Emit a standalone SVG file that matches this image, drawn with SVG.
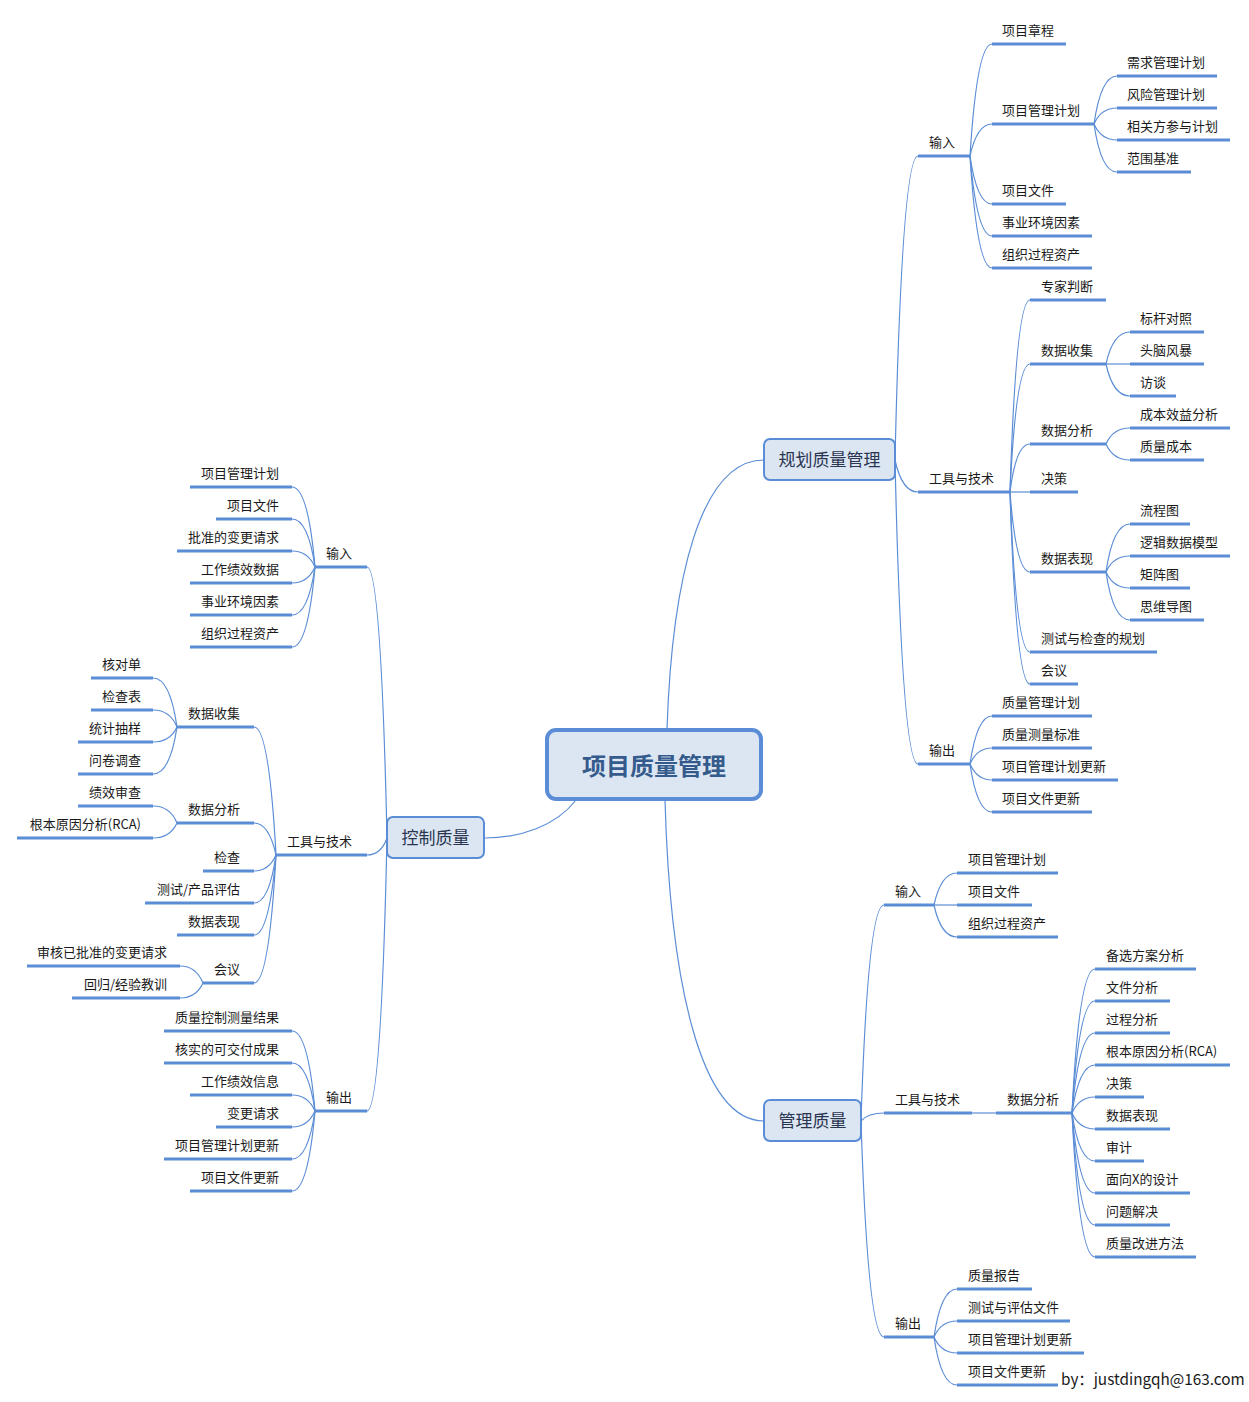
<svg xmlns="http://www.w3.org/2000/svg" width="1249" height="1402" viewBox="0 0 1249 1402">
<style>
.ul{stroke:#5b8dd6;stroke-width:3;fill:none}
.c{fill:none;stroke:#5b8dd6;stroke-width:1.2}
.t{font-family:"Noto Sans CJK SC","Microsoft YaHei","DejaVu Sans",sans-serif;font-size:13px;fill:#1a1a1a;transform:translateY(-1px)}
.te{text-anchor:end}
.box{fill:#dce6f3;stroke:#5b8dd6;stroke-width:2}
.bt{font-family:"Noto Sans CJK SC","Microsoft YaHei",sans-serif;font-size:17px;fill:#2a3550;text-anchor:middle}
.ct{font-family:"Noto Sans CJK SC","Microsoft YaHei",sans-serif;font-size:24px;font-weight:bold;fill:#355b8c;text-anchor:middle}
</style>
<rect width="1249" height="1402" fill="#ffffff"/>
<g id="connectors">
<path class="c" d="M 667 729 C 672 580, 700 460, 764 460"/>
<path class="c" d="M 665 800 C 670 980, 700 1121, 764 1121"/>
<path class="c" d="M 576 800 C 556 826, 520 838, 485 838"/>
<path class="c" d="M 895 460 Q 902 156 918 156"/>
<path class="c" d="M 895 460 Q 902 492 918 492"/>
<path class="c" d="M 895 460 Q 902 764 918 764"/>
<path class="c" d="M 970 156 Q 977 44 992 44"/>
<path class="c" d="M 970 156 Q 977 124 992 124"/>
<path class="c" d="M 970 156 Q 977 204 992 204"/>
<path class="c" d="M 970 156 Q 977 236 992 236"/>
<path class="c" d="M 970 156 Q 977 268 992 268"/>
<path class="c" d="M 1094 124 Q 1101 76 1117 76"/>
<path class="c" d="M 1094 124 Q 1101 108 1117 108"/>
<path class="c" d="M 1094 124 Q 1101 140 1117 140"/>
<path class="c" d="M 1094 124 Q 1101 172 1117 172"/>
<path class="c" d="M 1010 492 Q 1016 300 1030 300"/>
<path class="c" d="M 1010 492 Q 1016 364 1030 364"/>
<path class="c" d="M 1010 492 Q 1016 444 1030 444"/>
<path class="c" d="M 1010 492 L 1030 492"/>
<path class="c" d="M 1010 492 Q 1016 572 1030 572"/>
<path class="c" d="M 1010 492 Q 1016 652 1030 652"/>
<path class="c" d="M 1010 492 Q 1016 684 1030 684"/>
<path class="c" d="M 1106 364 Q 1113 332 1130 332"/>
<path class="c" d="M 1106 364 L 1130 364"/>
<path class="c" d="M 1106 364 Q 1113 396 1130 396"/>
<path class="c" d="M 1106 444 Q 1113 428 1130 428"/>
<path class="c" d="M 1106 444 Q 1113 460 1130 460"/>
<path class="c" d="M 1106 572 Q 1113 524 1130 524"/>
<path class="c" d="M 1106 572 Q 1113 556 1130 556"/>
<path class="c" d="M 1106 572 Q 1113 588 1130 588"/>
<path class="c" d="M 1106 572 Q 1113 620 1130 620"/>
<path class="c" d="M 970 764 Q 977 716 992 716"/>
<path class="c" d="M 970 764 Q 977 748 992 748"/>
<path class="c" d="M 970 764 Q 977 780 992 780"/>
<path class="c" d="M 970 764 Q 977 812 992 812"/>
<path class="c" d="M 861 1121 Q 868 905 884 905"/>
<path class="c" d="M 861 1121 Q 868 1113 884 1113"/>
<path class="c" d="M 861 1121 Q 868 1337 884 1337"/>
<path class="c" d="M 934 905 Q 941 873 957 873"/>
<path class="c" d="M 934 905 L 957 905"/>
<path class="c" d="M 934 905 Q 941 937 957 937"/>
<path class="c" d="M 972 1113 L 996 1113"/>
<path class="c" d="M 1072 1113 Q 1079 969 1095 969"/>
<path class="c" d="M 1072 1113 Q 1079 1001 1095 1001"/>
<path class="c" d="M 1072 1113 Q 1079 1033 1095 1033"/>
<path class="c" d="M 1072 1113 Q 1079 1065 1095 1065"/>
<path class="c" d="M 1072 1113 Q 1079 1097 1095 1097"/>
<path class="c" d="M 1072 1113 Q 1079 1129 1095 1129"/>
<path class="c" d="M 1072 1113 Q 1079 1161 1095 1161"/>
<path class="c" d="M 1072 1113 Q 1079 1193 1095 1193"/>
<path class="c" d="M 1072 1113 Q 1079 1225 1095 1225"/>
<path class="c" d="M 1072 1113 Q 1079 1257 1095 1257"/>
<path class="c" d="M 934 1337 Q 941 1289 957 1289"/>
<path class="c" d="M 934 1337 Q 941 1321 957 1321"/>
<path class="c" d="M 934 1337 Q 941 1353 957 1353"/>
<path class="c" d="M 934 1337 Q 941 1385 957 1385"/>
<path class="c" d="M 387 838 Q 381 567 367 567"/>
<path class="c" d="M 387 838 Q 381 855 367 855"/>
<path class="c" d="M 387 838 Q 381 1111 367 1111"/>
<path class="c" d="M 315 567 Q 308 487 292 487"/>
<path class="c" d="M 315 567 Q 308 519 292 519"/>
<path class="c" d="M 315 567 Q 308 551 292 551"/>
<path class="c" d="M 315 567 Q 308 583 292 583"/>
<path class="c" d="M 315 567 Q 308 615 292 615"/>
<path class="c" d="M 315 567 Q 308 647 292 647"/>
<path class="c" d="M 276 855 Q 269 727 254 727"/>
<path class="c" d="M 276 855 Q 269 823 254 823"/>
<path class="c" d="M 276 855 Q 269 871 254 871"/>
<path class="c" d="M 276 855 Q 269 903 254 903"/>
<path class="c" d="M 276 855 Q 269 935 254 935"/>
<path class="c" d="M 276 855 Q 269 983 254 983"/>
<path class="c" d="M 177 727 Q 170 678 153 678"/>
<path class="c" d="M 177 727 Q 170 710 153 710"/>
<path class="c" d="M 177 727 Q 170 742 153 742"/>
<path class="c" d="M 177 727 Q 170 774 153 774"/>
<path class="c" d="M 177 823 Q 170 806 153 806"/>
<path class="c" d="M 177 823 Q 170 838 153 838"/>
<path class="c" d="M 203 983 Q 196 966 180 966"/>
<path class="c" d="M 203 983 Q 196 998 180 998"/>
<path class="c" d="M 315 1111 Q 308 1031 292 1031"/>
<path class="c" d="M 315 1111 Q 308 1063 292 1063"/>
<path class="c" d="M 315 1111 Q 308 1095 292 1095"/>
<path class="c" d="M 315 1111 Q 308 1127 292 1127"/>
<path class="c" d="M 315 1111 Q 308 1159 292 1159"/>
<path class="c" d="M 315 1111 Q 308 1191 292 1191"/>
</g>

<g id="center"><rect x="547" y="730" width="214" height="69" rx="9" fill="#dce6f3" stroke="#5b8dd6" stroke-width="4"/><text class="ct" x="654" y="775">项目质量管理</text></g>
<g id="plan"><rect class="box" x="764" y="439" width="131" height="41" rx="6"/><text class="bt" x="829.5" y="466">规划质量管理</text></g>
<g id="control"><rect class="box" x="387" y="817" width="97" height="41" rx="6"/><text class="bt" x="435.5" y="844">控制质量</text></g>
<g id="manage"><rect class="box" x="764" y="1100" width="97" height="41" rx="6"/><text class="bt" x="812.5" y="1127">管理质量</text></g>

<!-- plan branch -->
<g id="p-in"><line class="ul" x1="918" y1="156" x2="970" y2="156"/><text class="t" x="929" y="148">输入</text></g>
<g id="p-tt"><line class="ul" x1="918" y1="492" x2="1010" y2="492"/><text class="t" x="929" y="484">工具与技术</text></g>
<g id="p-out"><line class="ul" x1="918" y1="764" x2="970" y2="764"/><text class="t" x="929" y="756">输出</text></g>

<g id="p-in-1"><line class="ul" x1="992" y1="44" x2="1066" y2="44"/><text class="t" x="1002" y="36">项目章程</text></g>
<g id="p-in-2"><line class="ul" x1="992" y1="124" x2="1094" y2="124"/><text class="t" x="1002" y="116">项目管理计划</text></g>
<g id="p-in-3"><line class="ul" x1="992" y1="204" x2="1066" y2="204"/><text class="t" x="1002" y="196">项目文件</text></g>
<g id="p-in-4"><line class="ul" x1="992" y1="236" x2="1092" y2="236"/><text class="t" x="1002" y="228">事业环境因素</text></g>
<g id="p-in-5"><line class="ul" x1="992" y1="268" x2="1092" y2="268"/><text class="t" x="1002" y="260">组织过程资产</text></g>
<g id="p-in-2-1"><line class="ul" x1="1117" y1="76" x2="1217" y2="76"/><text class="t" x="1127" y="68">需求管理计划</text></g>
<g id="p-in-2-2"><line class="ul" x1="1117" y1="108" x2="1217" y2="108"/><text class="t" x="1127" y="100">风险管理计划</text></g>
<g id="p-in-2-3"><line class="ul" x1="1117" y1="140" x2="1230" y2="140"/><text class="t" x="1127" y="132">相关方参与计划</text></g>
<g id="p-in-2-4"><line class="ul" x1="1117" y1="172" x2="1191" y2="172"/><text class="t" x="1127" y="164">范围基准</text></g>

<g id="p-tt-1"><line class="ul" x1="1030" y1="300" x2="1106" y2="300"/><text class="t" x="1041" y="292">专家判断</text></g>
<g id="p-tt-2"><line class="ul" x1="1030" y1="364" x2="1106" y2="364"/><text class="t" x="1041" y="356">数据收集</text></g>
<g id="p-tt-3"><line class="ul" x1="1030" y1="444" x2="1106" y2="444"/><text class="t" x="1041" y="436">数据分析</text></g>
<g id="p-tt-4"><line class="ul" x1="1030" y1="492" x2="1078" y2="492"/><text class="t" x="1041" y="484">决策</text></g>
<g id="p-tt-5"><line class="ul" x1="1030" y1="572" x2="1106" y2="572"/><text class="t" x="1041" y="564">数据表现</text></g>
<g id="p-tt-6"><line class="ul" x1="1030" y1="652" x2="1157" y2="652"/><text class="t" x="1041" y="644">测试与检查的规划</text></g>
<g id="p-tt-7"><line class="ul" x1="1030" y1="684" x2="1078" y2="684"/><text class="t" x="1041" y="676">会议</text></g>
<g id="p-tt-2-1"><line class="ul" x1="1130" y1="332" x2="1204" y2="332"/><text class="t" x="1140" y="324">标杆对照</text></g>
<g id="p-tt-2-2"><line class="ul" x1="1130" y1="364" x2="1204" y2="364"/><text class="t" x="1140" y="356">头脑风暴</text></g>
<g id="p-tt-2-3"><line class="ul" x1="1130" y1="396" x2="1176" y2="396"/><text class="t" x="1140" y="388">访谈</text></g>
<g id="p-tt-3-1"><line class="ul" x1="1130" y1="428" x2="1230" y2="428"/><text class="t" x="1140" y="420">成本效益分析</text></g>
<g id="p-tt-3-2"><line class="ul" x1="1130" y1="460" x2="1204" y2="460"/><text class="t" x="1140" y="452">质量成本</text></g>
<g id="p-tt-5-1"><line class="ul" x1="1130" y1="524" x2="1190" y2="524"/><text class="t" x="1140" y="516">流程图</text></g>
<g id="p-tt-5-2"><line class="ul" x1="1130" y1="556" x2="1230" y2="556"/><text class="t" x="1140" y="548">逻辑数据模型</text></g>
<g id="p-tt-5-3"><line class="ul" x1="1130" y1="588" x2="1190" y2="588"/><text class="t" x="1140" y="580">矩阵图</text></g>
<g id="p-tt-5-4"><line class="ul" x1="1130" y1="620" x2="1204" y2="620"/><text class="t" x="1140" y="612">思维导图</text></g>

<g id="p-out-1"><line class="ul" x1="992" y1="716" x2="1092" y2="716"/><text class="t" x="1002" y="708">质量管理计划</text></g>
<g id="p-out-2"><line class="ul" x1="992" y1="748" x2="1092" y2="748"/><text class="t" x="1002" y="740">质量测量标准</text></g>
<g id="p-out-3"><line class="ul" x1="992" y1="780" x2="1118" y2="780"/><text class="t" x="1002" y="772">项目管理计划更新</text></g>
<g id="p-out-4"><line class="ul" x1="992" y1="812" x2="1092" y2="812"/><text class="t" x="1002" y="804">项目文件更新</text></g>

<!-- manage branch -->
<g id="m-in"><line class="ul" x1="884" y1="905" x2="934" y2="905"/><text class="t" x="895" y="897">输入</text></g>
<g id="m-tt"><line class="ul" x1="884" y1="1113" x2="972" y2="1113"/><text class="t" x="895" y="1105">工具与技术</text></g>
<g id="m-out"><line class="ul" x1="884" y1="1337" x2="934" y2="1337"/><text class="t" x="895" y="1329">输出</text></g>
<g id="m-in-1"><line class="ul" x1="957" y1="873" x2="1058" y2="873"/><text class="t" x="968" y="865">项目管理计划</text></g>
<g id="m-in-2"><line class="ul" x1="957" y1="905" x2="1032" y2="905"/><text class="t" x="968" y="897">项目文件</text></g>
<g id="m-in-3"><line class="ul" x1="957" y1="937" x2="1058" y2="937"/><text class="t" x="968" y="929">组织过程资产</text></g>
<g id="m-tt-1"><line class="ul" x1="996" y1="1113" x2="1072" y2="1113"/><text class="t" x="1007" y="1105">数据分析</text></g>
<g id="m-da-1"><line class="ul" x1="1095" y1="969" x2="1196" y2="969"/><text class="t" x="1106" y="961">备选方案分析</text></g>
<g id="m-da-2"><line class="ul" x1="1095" y1="1001" x2="1170" y2="1001"/><text class="t" x="1106" y="993">文件分析</text></g>
<g id="m-da-3"><line class="ul" x1="1095" y1="1033" x2="1170" y2="1033"/><text class="t" x="1106" y="1025">过程分析</text></g>
<g id="m-da-4"><line class="ul" x1="1095" y1="1065" x2="1230" y2="1065"/><text class="t" x="1106" y="1057">根本原因分析(RCA)</text></g>
<g id="m-da-5"><line class="ul" x1="1095" y1="1097" x2="1144" y2="1097"/><text class="t" x="1106" y="1089">决策</text></g>
<g id="m-da-6"><line class="ul" x1="1095" y1="1129" x2="1170" y2="1129"/><text class="t" x="1106" y="1121">数据表现</text></g>
<g id="m-da-7"><line class="ul" x1="1095" y1="1161" x2="1144" y2="1161"/><text class="t" x="1106" y="1153">审计</text></g>
<g id="m-da-8"><line class="ul" x1="1095" y1="1193" x2="1190" y2="1193"/><text class="t" x="1106" y="1185">面向X的设计</text></g>
<g id="m-da-9"><line class="ul" x1="1095" y1="1225" x2="1170" y2="1225"/><text class="t" x="1106" y="1217">问题解决</text></g>
<g id="m-da-10"><line class="ul" x1="1095" y1="1257" x2="1196" y2="1257"/><text class="t" x="1106" y="1249">质量改进方法</text></g>
<g id="m-out-1"><line class="ul" x1="957" y1="1289" x2="1032" y2="1289"/><text class="t" x="968" y="1281">质量报告</text></g>
<g id="m-out-2"><line class="ul" x1="957" y1="1321" x2="1070" y2="1321"/><text class="t" x="968" y="1313">测试与评估文件</text></g>
<g id="m-out-3"><line class="ul" x1="957" y1="1353" x2="1084" y2="1353"/><text class="t" x="968" y="1345">项目管理计划更新</text></g>
<g id="m-out-4"><line class="ul" x1="957" y1="1385" x2="1058" y2="1385"/><text class="t" x="968" y="1377">项目文件更新</text></g>

<!-- control branch -->
<g id="c-in"><line class="ul" x1="315" y1="567" x2="367" y2="567"/><text class="t te" x="352" y="559">输入</text></g>
<g id="c-tt"><line class="ul" x1="276" y1="855" x2="367" y2="855"/><text class="t te" x="352" y="847">工具与技术</text></g>
<g id="c-out"><line class="ul" x1="315" y1="1111" x2="367" y2="1111"/><text class="t te" x="352" y="1103">输出</text></g>
<g id="c-in-1"><line class="ul" x1="190" y1="487" x2="292" y2="487"/><text class="t te" x="279" y="479">项目管理计划</text></g>
<g id="c-in-2"><line class="ul" x1="216" y1="519" x2="292" y2="519"/><text class="t te" x="279" y="511">项目文件</text></g>
<g id="c-in-3"><line class="ul" x1="177" y1="551" x2="292" y2="551"/><text class="t te" x="279" y="543">批准的变更请求</text></g>
<g id="c-in-4"><line class="ul" x1="190" y1="583" x2="292" y2="583"/><text class="t te" x="279" y="575">工作绩效数据</text></g>
<g id="c-in-5"><line class="ul" x1="190" y1="615" x2="292" y2="615"/><text class="t te" x="279" y="607">事业环境因素</text></g>
<g id="c-in-6"><line class="ul" x1="190" y1="647" x2="292" y2="647"/><text class="t te" x="279" y="639">组织过程资产</text></g>
<g id="c-tt-1"><line class="ul" x1="177" y1="727" x2="254" y2="727"/><text class="t te" x="240" y="719">数据收集</text></g>
<g id="c-tt-2"><line class="ul" x1="177" y1="823" x2="254" y2="823"/><text class="t te" x="240" y="815">数据分析</text></g>
<g id="c-tt-3"><line class="ul" x1="203" y1="871" x2="254" y2="871"/><text class="t te" x="240" y="863">检查</text></g>
<g id="c-tt-4"><line class="ul" x1="145" y1="903" x2="254" y2="903"/><text class="t te" x="240" y="895">测试/产品评估</text></g>
<g id="c-tt-5"><line class="ul" x1="177" y1="935" x2="254" y2="935"/><text class="t te" x="240" y="927">数据表现</text></g>
<g id="c-tt-6"><line class="ul" x1="203" y1="983" x2="254" y2="983"/><text class="t te" x="240" y="975">会议</text></g>
<g id="c-dc-1"><line class="ul" x1="91" y1="678" x2="153" y2="678"/><text class="t te" x="141" y="670">核对单</text></g>
<g id="c-dc-2"><line class="ul" x1="91" y1="710" x2="153" y2="710"/><text class="t te" x="141" y="702">检查表</text></g>
<g id="c-dc-3"><line class="ul" x1="78" y1="742" x2="153" y2="742"/><text class="t te" x="141" y="734">统计抽样</text></g>
<g id="c-dc-4"><line class="ul" x1="78" y1="774" x2="153" y2="774"/><text class="t te" x="141" y="766">问卷调查</text></g>
<g id="c-da-1"><line class="ul" x1="78" y1="806" x2="153" y2="806"/><text class="t te" x="141" y="798">绩效审查</text></g>
<g id="c-da-2"><line class="ul" x1="17" y1="838" x2="153" y2="838"/><text class="t te" x="141" y="830">根本原因分析(RCA)</text></g>
<g id="c-mt-1"><line class="ul" x1="27" y1="966" x2="180" y2="966"/><text class="t te" x="167" y="958">审核已批准的变更请求</text></g>
<g id="c-mt-2"><line class="ul" x1="72" y1="998" x2="180" y2="998"/><text class="t te" x="167" y="990">回归/经验教训</text></g>
<g id="c-out-1"><line class="ul" x1="164" y1="1031" x2="292" y2="1031"/><text class="t te" x="279" y="1023">质量控制测量结果</text></g>
<g id="c-out-2"><line class="ul" x1="164" y1="1063" x2="292" y2="1063"/><text class="t te" x="279" y="1055">核实的可交付成果</text></g>
<g id="c-out-3"><line class="ul" x1="190" y1="1095" x2="292" y2="1095"/><text class="t te" x="279" y="1087">工作绩效信息</text></g>
<g id="c-out-4"><line class="ul" x1="216" y1="1127" x2="292" y2="1127"/><text class="t te" x="279" y="1119">变更请求</text></g>
<g id="c-out-5"><line class="ul" x1="164" y1="1159" x2="292" y2="1159"/><text class="t te" x="279" y="1151">项目管理计划更新</text></g>
<g id="c-out-6"><line class="ul" x1="190" y1="1191" x2="292" y2="1191"/><text class="t te" x="279" y="1183">项目文件更新</text></g>

<text x="1061" y="1385" font-family="Noto Sans CJK SC, Microsoft YaHei, sans-serif" font-size="15.3" fill="#1a1a1a">by：justdingqh@163.com</text>
</svg>
